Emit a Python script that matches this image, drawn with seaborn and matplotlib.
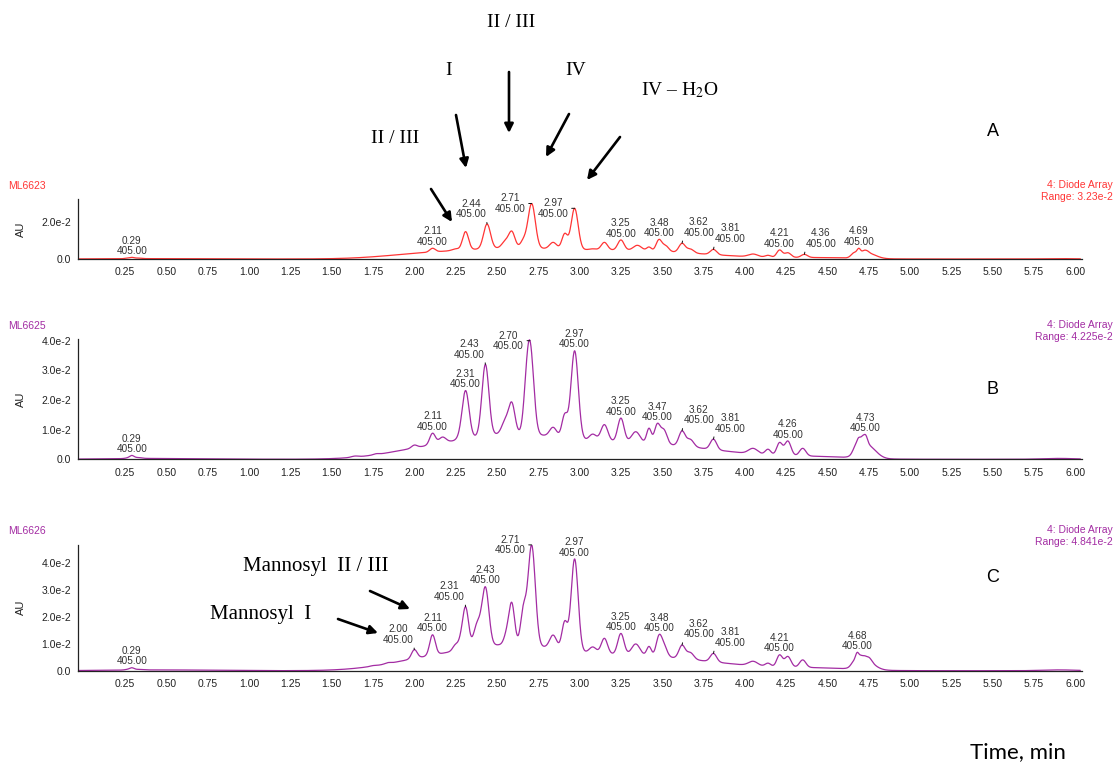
import numpy as np
import pandas as pd
import matplotlib
matplotlib.use("Agg")
import matplotlib.pyplot as plt
import seaborn as sns
from matplotlib.ticker import FixedLocator, MultipleLocator, FuncFormatter

# ---------------- data ----------------
# retention time (min), observed apex absorbance (AU), peak width (sigma, min)
A_peak_t = [0.26, 0.29, 0.33, 1.64, 1.75, 1.85, 2.00, 2.11, 2.25, 2.28, 2.31, 2.44, 2.55, 2.59, 2.66, 2.71,
            2.84, 2.91, 2.97, 3.08, 3.15, 3.25, 3.35, 3.42, 3.48, 3.52, 3.62, 3.67, 3.81, 4.05, 4.14, 4.21,
            4.26, 4.36, 4.66, 4.69, 4.72, 4.74]
A_peak_h = [0.0005, 0.0009, 0.0005, 0.0004, 0.0009, 0.0018, 0.0030, 0.0058, 0.0055, 0.0070, 0.0148, 0.0189,
            0.0103, 0.0151, 0.0115, 0.0300, 0.0090, 0.0139, 0.0274, 0.0055, 0.0090, 0.0103, 0.0074, 0.0065,
            0.0106, 0.0075, 0.0085, 0.0055, 0.0052, 0.0027, 0.0020, 0.0049, 0.0034, 0.0025, 0.0035, 0.0058,
            0.0047, 0.0045]
A_peak_w = [0.014, 0.014, 0.021, 0.021, 0.017, 0.017, 0.017, 0.017, 0.021, 0.017, 0.018, 0.021, 0.021, 0.019,
            0.018, 0.022, 0.021, 0.017, 0.021, 0.021, 0.019, 0.019, 0.025, 0.014, 0.017, 0.019, 0.019, 0.021,
            0.019, 0.028, 0.017, 0.017, 0.019, 0.019, 0.017, 0.011, 0.011, 0.012]
A_bg_t = [0.45, 2.05, 2.55, 3.30, 4.45, 4.74, 5.90]
A_bg_h = [0.0002, 0.0022, 0.0045, 0.0045, 0.0006, 0.0030, 0.0002]
A_bg_w = [0.30, 0.25, 0.30, 0.45, 0.20, 0.05, 0.10]
A_label_t = [0.29, 2.11, 2.44, 2.71, 2.97, 3.25, 3.48, 3.62, 3.81, 4.21, 4.36, 4.69]

B_peak_t = [0.26, 0.29, 0.33, 1.64, 1.77, 1.86, 2.00, 2.11, 2.17, 2.27, 2.31, 2.43, 2.55, 2.59, 2.675, 2.70,
            2.84, 2.91, 2.97, 3.08, 3.15, 3.25, 3.34, 3.42, 3.47, 3.51, 3.62, 3.67, 3.81, 4.05, 4.14, 4.21,
            4.26, 4.35, 4.67, 4.69, 4.71, 4.73]
B_peak_h = [0.0005, 0.0013, 0.0006, 0.0011, 0.0019, 0.0024, 0.0048, 0.0088, 0.0075, 0.0096, 0.0232, 0.0320,
            0.0139, 0.0193, 0.0300, 0.0400, 0.0108, 0.0155, 0.0366, 0.0085, 0.0117, 0.0139, 0.0093, 0.0105,
            0.0121, 0.0102, 0.0096, 0.0068, 0.0068, 0.0037, 0.0034, 0.0057, 0.0062, 0.0037, 0.0051, 0.0074,
            0.0079, 0.0083]
B_peak_w = [0.014, 0.014, 0.021, 0.021, 0.017, 0.017, 0.017, 0.017, 0.021, 0.017, 0.021, 0.021, 0.021, 0.019,
            0.017, 0.022, 0.021, 0.017, 0.022, 0.021, 0.021, 0.019, 0.025, 0.014, 0.017, 0.019, 0.019, 0.021,
            0.019, 0.028, 0.017, 0.017, 0.019, 0.019, 0.017, 0.011, 0.010, 0.012]
B_bg_t = [0.45, 2.05, 2.55, 3.30, 4.45, 4.74, 5.90]
B_bg_h = [0.0003, 0.0025, 0.0065, 0.0055, 0.0006, 0.0045, 0.0003]
B_bg_w = [0.30, 0.25, 0.30, 0.50, 0.20, 0.05, 0.10]
B_label_t = [0.29, 2.11, 2.31, 2.43, 2.70, 2.97, 3.25, 3.47, 3.62, 3.81, 4.26, 4.73]

C_peak_t = [0.26, 0.29, 0.33, 1.65, 1.75, 1.84, 1.95, 2.00, 2.11, 2.25, 2.28, 2.31, 2.38, 2.43, 2.56, 2.59,
            2.66, 2.71, 2.84, 2.91, 2.97, 3.08, 3.15, 3.25, 3.34, 3.42, 3.48, 3.51, 3.62, 3.67, 3.81, 4.05,
            4.14, 4.21, 4.26, 4.35, 4.66, 4.68, 4.70, 4.72, 4.75]
C_peak_h = [0.0005, 0.0011, 0.0005, 0.0009, 0.0019, 0.0030, 0.0037, 0.0078, 0.0133, 0.0099, 0.0142, 0.0237,
            0.0182, 0.0311, 0.0166, 0.0253, 0.0247, 0.0466, 0.0132, 0.0185, 0.0414, 0.0088, 0.0120, 0.0138,
            0.0099, 0.0090, 0.0133, 0.0105, 0.0095, 0.0068, 0.0064, 0.0035, 0.0028, 0.0059, 0.0053, 0.0040,
            0.0040, 0.0068, 0.0058, 0.0056, 0.0050]
C_peak_w = [0.014, 0.014, 0.021, 0.021, 0.017, 0.017, 0.017, 0.017, 0.017, 0.017, 0.014, 0.018, 0.021, 0.021,
            0.017, 0.017, 0.017, 0.022, 0.021, 0.017, 0.021, 0.021, 0.019, 0.019, 0.025, 0.014, 0.017, 0.019,
            0.019, 0.021, 0.019, 0.028, 0.017, 0.017, 0.019, 0.019, 0.017, 0.010, 0.010, 0.011, 0.017]
C_bg_t = [0.45, 2.05, 2.55, 3.30, 4.45, 4.73, 5.90]
C_bg_h = [0.0003, 0.0030, 0.0075, 0.0055, 0.0007, 0.0035, 0.0003]
C_bg_w = [0.30, 0.25, 0.30, 0.50, 0.20, 0.05, 0.10]
C_label_t = [0.29, 2.00, 2.11, 2.31, 2.43, 2.71, 2.97, 3.25, 3.48, 3.62, 3.81, 4.21, 4.68]

x_ticks = [0.25, 0.50, 0.75, 1.00, 1.25, 1.50, 1.75, 2.00, 2.25, 2.50, 2.75, 3.00,
           3.25, 3.50, 3.75, 4.00, 4.25, 4.50, 4.75, 5.00, 5.25, 5.50, 5.75, 6.00]
sample_names = ["ML6623", "ML6625", "ML6626"]
ranges = ["3.23e-2", "4.225e-2", "4.841e-2"]
wavelength = "405.00"

# label styles (layout only): c = centred above, l = left with leader, r = right with leader, h = left with bar
A_label_style = ['c', 'c', 'l', 'h', 'h', 'c', 'c', 'r', 'r', 'c', 'r', 'c']
B_label_style = ['c', 'c', 'c', 'l', 'h', 'c', 'c', 'c', 'r', 'r', 'c', 'c']
C_label_style = ['c', 'l', 'c', 'l', 'c', 'h', 'c', 'c', 'c', 'r', 'r', 'c', 'c']

# ---------------- helpers ----------------
def gauss_sum(t, c, h, w):
    t = np.atleast_1d(np.asarray(t, float))
    c, h, w = (np.asarray(v, float) for v in (c, h, w))
    return (h[None, :] * np.exp(-(t[:, None] - c[None, :]) ** 2 / (2 * w[None, :] ** 2))).sum(axis=1)


def peak_amplitudes(c, obs, w, bgfun):
    c, obs, w = (np.asarray(v, float) for v in (c, obs, w))
    target = obs - bgfun(c)
    M = np.exp(-(c[:, None] - c[None, :]) ** 2 / (2 * w[None, :] ** 2))
    active = np.ones(len(c), bool)
    amp = np.zeros(len(c))
    for _ in range(len(c)):
        idx = np.where(active)[0]
        sol = np.linalg.lstsq(M[np.ix_(idx, idx)], target[idx], rcond=None)[0]
        amp[:] = 0
        amp[idx] = sol
        if (sol >= 0).all():
            break
        active[idx[np.argmin(sol)]] = False
    return amp


# ---------------- figure ----------------
sns.set_theme(style="white")
plt.rcParams['font.family'] = ['Liberation Sans', 'DejaVu Sans']
plt.rcParams['mathtext.fontset'] = 'stix'

W, H = 1116, 765
fig = plt.figure(figsize=(W / 100, H / 100), dpi=100)
fig.patch.set_facecolor('white')

RED = '#FF3535'
PURPLE = '#A32CA3'
TXT = '#333333'

panels = [
    dict(t=A_peak_t, h=A_peak_h, w=A_peak_w, bt=A_bg_t, bh=A_bg_h, bw=A_bg_w, lt=A_label_t, ls=A_label_style,
         color=RED, bottom=259.0, ytop=0.0323, ppu=1850.0, major=0.02, minor=0.002,
         name_y=186, letter='A', letter_y=132),
    dict(t=B_peak_t, h=B_peak_h, w=B_peak_w, bt=B_bg_t, bh=B_bg_h, bw=B_bg_w, lt=B_label_t, ls=B_label_style,
         color=PURPLE, bottom=459.3, ytop=0.0405, ppu=2965.0, major=0.01, minor=0.001,
         name_y=326, letter='B', letter_y=390),
    dict(t=C_peak_t, h=C_peak_h, w=C_peak_w, bt=C_bg_t, bh=C_bg_h, bw=C_bg_w, lt=C_label_t, ls=C_label_style,
         color=PURPLE, bottom=670.7, ytop=0.0466, ppu=2700.0, major=0.01, minor=0.001,
         name_y=531, letter='C', letter_y=578),
]

left_px, right_px = 78, 1082
xmin, xmax = -0.035, 6.04
grid = np.linspace(-0.03, 6.03, 3031)


def yfmt(v, pos):
    if abs(v) < 1e-12:
        return "0.0"
    return f"{v * 100:.1f}e-2"


for i, p in enumerate(panels):
    height_px = p['ytop'] * p['ppu']
    ax = fig.add_axes([left_px / W, 1 - p['bottom'] / H, (right_px - left_px) / W, height_px / H])
    bgfun = lambda tt, p=p: gauss_sum(tt, p['bt'], p['bh'], p['bw'])
    amp = peak_amplitudes(p['t'], p['h'], p['w'], bgfun)
    curve = bgfun(grid) + gauss_sum(grid, p['t'], amp, p['w'])
    df = pd.DataFrame({'time': grid, 'au': curve})
    sns.lineplot(data=df, x='time', y='au', ax=ax, color=p['color'], linewidth=0.9, estimator=None)

    ax.set_xlim(xmin, xmax)
    ax.set_ylim(0, p['ytop'])
    for s in ('top', 'right'):
        ax.spines[s].set_visible(False)
    for s in ('left', 'bottom'):
        ax.spines[s].set_color('#222222')
        ax.spines[s].set_linewidth(0.9)
    ax.xaxis.set_major_locator(FixedLocator(x_ticks))
    ax.xaxis.set_minor_locator(MultipleLocator(0.05))
    ax.xaxis.set_major_formatter(FuncFormatter(lambda v, pos: f"{v:.2f}"))
    ax.yaxis.set_major_locator(MultipleLocator(p['major']))
    ax.yaxis.set_minor_locator(MultipleLocator(p['minor']))
    ax.yaxis.set_major_formatter(FuncFormatter(yfmt))
    ax.tick_params(axis='both', which='major', direction='out', length=4, width=0.8,
                   color='#222222', labelsize=7.5, labelcolor='#222222', pad=2)
    ax.tick_params(axis='both', which='minor', direction='out', length=2.5, width=0.6, color='#222222')
    ax.tick_params(axis='y', which='major', pad=1)
    ax.set_xlabel('')
    ax.set_ylabel('AU', fontsize=8, color='#222222')
    ax.yaxis.set_label_coords(-0.052, 0.5)
    ax.set_facecolor('none')

    # peak labels
    for lt, st in zip(p['lt'], p['ls']):
        yv = float(bgfun(lt)[0] + gauss_sum(lt, p['t'], amp, p['w'])[0])
        txt = f"{lt:.2f}\n{wavelength}"
        kw = dict(fontsize=7.2, color=TXT, linespacing=1.05, ha='center', textcoords='offset points',
                  annotation_clip=False)
        line = dict(arrowstyle='-', color='#111111', lw=0.7, shrinkA=0, shrinkB=0)
        if st == 'c':
            ax.annotate(txt, xy=(lt, yv), xytext=(0, 1.0), va='bottom', **kw)
        elif st == 'l':
            ax.annotate(txt, xy=(lt, yv), xytext=(-11.5, 3.5), va='bottom',
                        arrowprops=dict(relpos=(1, 0), **line), **kw)
        elif st == 'r':
            ax.annotate(txt, xy=(lt, yv), xytext=(12, 4.0), va='bottom',
                        arrowprops=dict(relpos=(0, 0), **line), **kw)
        elif st == 'h':
            ax.annotate(txt, xy=(lt, yv), xytext=(-15.6, 0), va='center',
                        arrowprops=dict(relpos=(1, 0.5), **line), **kw)

    # header texts
    fig.text(8 / W, 1 - p['name_y'] / H, sample_names[i], color=p['color'], fontsize=7.5,
             ha='left', va='center')
    fig.text(1113 / W, 1 - (p['name_y'] - 1) / H, "4: Diode Array", color=p['color'], fontsize=7.5,
             ha='right', va='center')
    fig.text(1113 / W, 1 - (p['name_y'] + 11) / H, f"Range: {ranges[i]}", color=p['color'], fontsize=7.5,
             ha='right', va='center')
    fig.text(993 / W, 1 - p['letter_y'] / H, p['letter'], color='black', fontsize=13,
             ha='center', va='center')

# ---------------- overlay annotations (pixel coordinates) ----------------
ov = fig.add_axes([0, 0, 1, 1], zorder=10)
ov.set_xlim(0, W)
ov.set_ylim(H, 0)
ov.axis('off')
ov.patch.set_alpha(0)

serif = ['Liberation Serif', 'DejaVu Serif']
for s, (x, y) in [("II / III", (511, 22)), ("I", (449, 70)), ("IV", (576, 70)),
                  ("IV – H$_2$O", (680, 90)), ("II / III", (395, 138))]:
    ov.text(x, y, s, family=serif, fontsize=14, ha='center', va='center', color='black')
for s, (x, y) in [("Mannosyl  II / III", (316, 566)), ("Mannosyl  I", (261, 614))]:
    ov.text(x, y, s, family=serif, fontsize=15, ha='center', va='center', color='black')

arrows = [((456, 115), (466, 168)), ((509, 72), (509, 133)), ((569, 114), (546, 157)),
          ((620, 137), (587, 180)), ((431, 189), (452, 222)),
          ((370, 591), (410, 609)), ((338, 619), (378, 633))]
for (x0, y0), (x1, y1) in arrows:
    ov.annotate('', xy=(x1, y1), xytext=(x0, y0),
                arrowprops=dict(arrowstyle='-|>', color='black', lw=1.9, mutation_scale=13,
                                shrinkA=0, shrinkB=0))

ov.text(1018, 752, "Time, min", family=['Lato', 'DejaVu Sans'], fontsize=16, ha='center', va='center',
        color='black')

fig.savefig("out.png", dpi=100, facecolor='white')
